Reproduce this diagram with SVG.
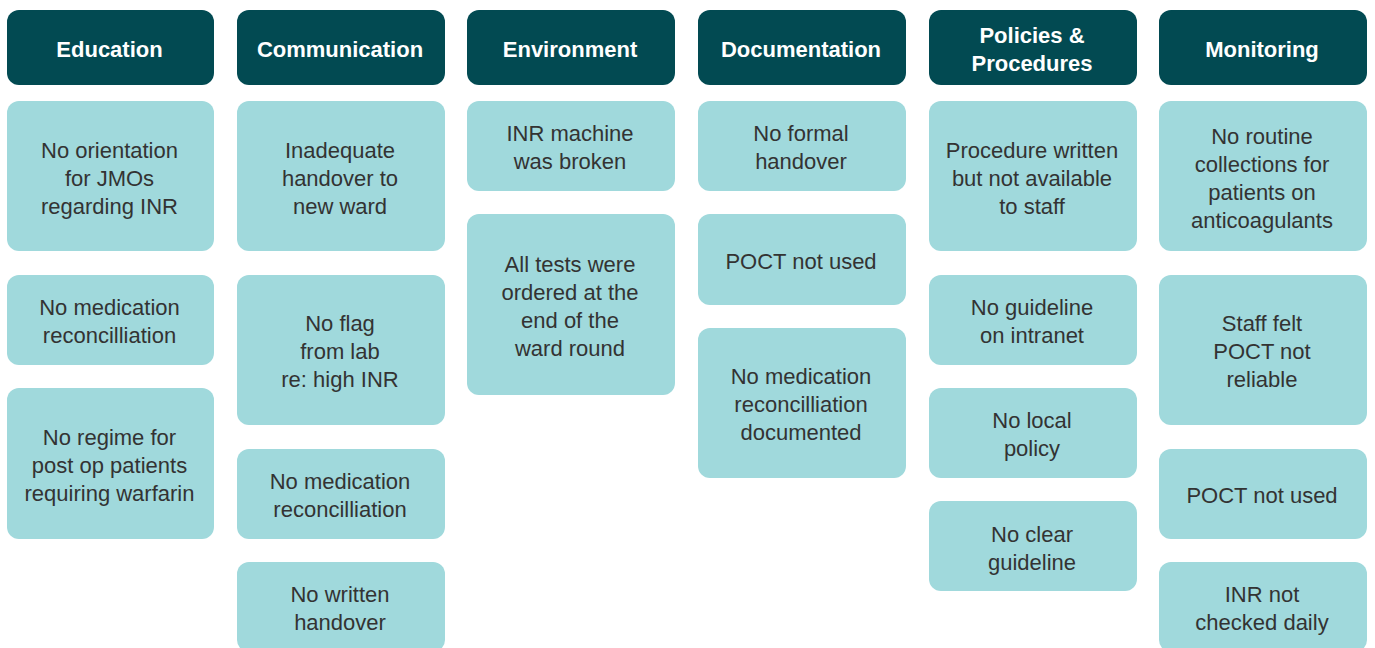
<svg xmlns="http://www.w3.org/2000/svg" width="1375" height="648" viewBox="0 0 1375 648">
<style>
.h{fill:#024a52}
.b{fill:#a0d9dc}
.ht{font-family:"Liberation Sans",Arial,sans-serif;font-size:22px;font-weight:bold;fill:#fff;text-anchor:middle}
.bt{font-family:"Liberation Sans",Arial,sans-serif;font-size:22px;fill:#333;text-anchor:middle}
</style>
<rect width="1375" height="648" fill="#fff"/>
<g id="education">
<g id="edu-h"><rect class="h" x="7" y="10" width="207" height="75" rx="12"/><text class="ht" x="109.5" y="57">Education</text></g>
<g id="edu-1"><rect class="b" x="7" y="101" width="207" height="150" rx="12"/><text class="bt" x="109.5" y="158"><tspan x="109.5">No orientation</tspan><tspan x="109.5" dy="28">for JMOs</tspan><tspan x="109.5" dy="28">regarding INR</tspan></text></g>
<g id="edu-2"><rect class="b" x="7" y="275" width="207" height="90" rx="12"/><text class="bt" x="109.5" y="315"><tspan x="109.5">No medication</tspan><tspan x="109.5" dy="28">reconcilliation</tspan></text></g>
<g id="edu-3"><rect class="b" x="7" y="388" width="207" height="151" rx="12"/><text class="bt" x="109.5" y="445"><tspan x="109.5">No regime for</tspan><tspan x="109.5" dy="28">post op patients</tspan><tspan x="109.5" dy="28">requiring warfarin</tspan></text></g>
</g>
<g id="communication">
<g id="com-h"><rect class="h" x="237" y="10" width="208" height="75" rx="12"/><text class="ht" x="340" y="57">Communication</text></g>
<g id="com-1"><rect class="b" x="237" y="101" width="208" height="150" rx="12"/><text class="bt" x="340" y="158"><tspan x="340">Inadequate</tspan><tspan x="340" dy="28">handover to</tspan><tspan x="340" dy="28">new ward</tspan></text></g>
<g id="com-2"><rect class="b" x="237" y="275" width="208" height="150" rx="12"/><text class="bt" x="340" y="331"><tspan x="340">No flag</tspan><tspan x="340" dy="28">from lab</tspan><tspan x="340" dy="28">re: high INR</tspan></text></g>
<g id="com-3"><rect class="b" x="237" y="449" width="208" height="90" rx="12"/><text class="bt" x="340" y="489"><tspan x="340">No medication</tspan><tspan x="340" dy="28">reconcilliation</tspan></text></g>
<g id="com-4"><rect class="b" x="237" y="562" width="208" height="90" rx="12"/><text class="bt" x="340" y="602"><tspan x="340">No written</tspan><tspan x="340" dy="28">handover</tspan></text></g>
</g>
<g id="environment">
<g id="env-h"><rect class="h" x="467" y="10" width="208" height="75" rx="12"/><text class="ht" x="570" y="57">Environment</text></g>
<g id="env-1"><rect class="b" x="467" y="101" width="208" height="90" rx="12"/><text class="bt" x="570" y="141"><tspan x="570">INR machine</tspan><tspan x="570" dy="28">was broken</tspan></text></g>
<g id="env-2"><rect class="b" x="467" y="214" width="208" height="181" rx="12"/><text class="bt" x="570" y="272"><tspan x="570">All tests were</tspan><tspan x="570" dy="28">ordered at the</tspan><tspan x="570" dy="28">end of the</tspan><tspan x="570" dy="28">ward round</tspan></text></g>
</g>
<g id="documentation">
<g id="doc-h"><rect class="h" x="698" y="10" width="208" height="75" rx="12"/><text class="ht" x="801" y="57">Documentation</text></g>
<g id="doc-1"><rect class="b" x="698" y="101" width="208" height="90" rx="12"/><text class="bt" x="801" y="141"><tspan x="801">No formal</tspan><tspan x="801" dy="28">handover</tspan></text></g>
<g id="doc-2"><rect class="b" x="698" y="214" width="208" height="91" rx="12"/><text class="bt" x="801" y="269">POCT not used</text></g>
<g id="doc-3"><rect class="b" x="698" y="328" width="208" height="150" rx="12"/><text class="bt" x="801" y="384"><tspan x="801">No medication</tspan><tspan x="801" dy="28">reconcilliation</tspan><tspan x="801" dy="28">documented</tspan></text></g>
</g>
<g id="policies">
<g id="pol-h"><rect class="h" x="929" y="10" width="208" height="75" rx="12"/><text class="ht" x="1032" y="43"><tspan x="1032">Policies &amp;</tspan><tspan x="1032" dy="28">Procedures</tspan></text></g>
<g id="pol-1"><rect class="b" x="929" y="101" width="208" height="150" rx="12"/><text class="bt" x="1032" y="158"><tspan x="1032">Procedure written</tspan><tspan x="1032" dy="28">but not available</tspan><tspan x="1032" dy="28">to staff</tspan></text></g>
<g id="pol-2"><rect class="b" x="929" y="275" width="208" height="90" rx="12"/><text class="bt" x="1032" y="315"><tspan x="1032">No guideline</tspan><tspan x="1032" dy="28">on intranet</tspan></text></g>
<g id="pol-3"><rect class="b" x="929" y="388" width="208" height="90" rx="12"/><text class="bt" x="1032" y="428"><tspan x="1032">No local</tspan><tspan x="1032" dy="28">policy</tspan></text></g>
<g id="pol-4"><rect class="b" x="929" y="501" width="208" height="90" rx="12"/><text class="bt" x="1032" y="542"><tspan x="1032">No clear</tspan><tspan x="1032" dy="28">guideline</tspan></text></g>
</g>
<g id="monitoring">
<g id="mon-h"><rect class="h" x="1159" y="10" width="208" height="75" rx="12"/><text class="ht" x="1262" y="57">Monitoring</text></g>
<g id="mon-1"><rect class="b" x="1159" y="101" width="208" height="150" rx="12"/><text class="bt" x="1262" y="144"><tspan x="1262">No routine</tspan><tspan x="1262" dy="28">collections for</tspan><tspan x="1262" dy="28">patients on</tspan><tspan x="1262" dy="28">anticoagulants</tspan></text></g>
<g id="mon-2"><rect class="b" x="1159" y="275" width="208" height="150" rx="12"/><text class="bt" x="1262" y="331"><tspan x="1262">Staff felt</tspan><tspan x="1262" dy="28">POCT not</tspan><tspan x="1262" dy="28">reliable</tspan></text></g>
<g id="mon-3"><rect class="b" x="1159" y="449" width="208" height="90" rx="12"/><text class="bt" x="1262" y="503">POCT not used</text></g>
<g id="mon-4"><rect class="b" x="1159" y="562" width="208" height="90" rx="12"/><text class="bt" x="1262" y="602"><tspan x="1262">INR not</tspan><tspan x="1262" dy="28">checked daily</tspan></text></g>
</g>
<g id="connectors"/>
</svg>
